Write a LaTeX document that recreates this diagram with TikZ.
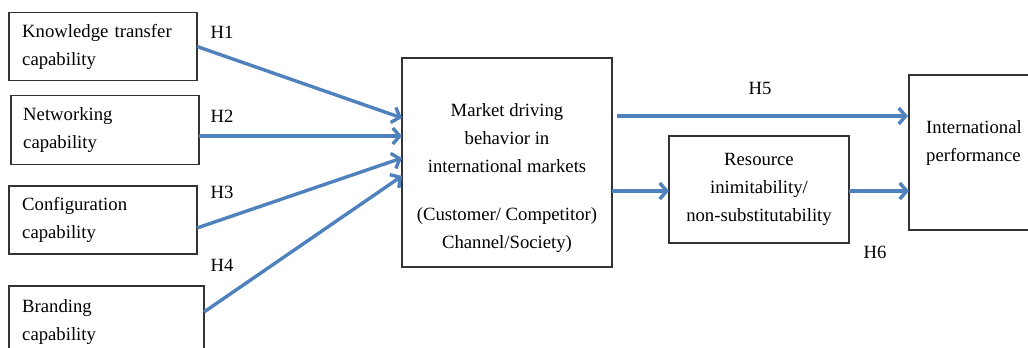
\documentclass[tikz,border=0pt]{standalone}
\usepackage{fontspec}
\setmainfont{Liberation Serif}
\usetikzlibrary{arrows.meta}
\definecolor{arrowblue}{RGB}{79,129,189}
\begin{document}
\begin{tikzpicture}[x=1pt,y=-1pt,
  every node/.style={font=\fontsize{18.7}{28}\selectfont},
  box/.style={draw=black!80,line width=1.2pt,inner sep=0pt,outer sep=0pt},
  ltext/.style={inner sep=0pt,align=left,text width=#1},
  arr/.style={draw=arrowblue,line width=3.4pt,-{Straight Barb[length=7pt,width=16pt]}},
  hlab/.style={inner sep=0pt}]
\useasboundingbox (0,0) rectangle (1028,348);
% left boxes
\node[box,minimum width=188pt,minimum height=68pt] (k) at (103,46.5) {};
\node[ltext=170pt,anchor=west] (kt) at ([xshift=13pt]k.west) {Knowledge transfer\\capability};
\node[box,minimum width=188pt,minimum height=69pt] (n) at (105,130) {};
\node[ltext=170pt,anchor=west] (nt) at ([xshift=12pt]n.west) {Networking\\capability};
\node[box,minimum width=188pt,minimum height=68pt] (c) at (103,220) {};
\node[ltext=170pt,anchor=west] (ct) at ([xshift=13pt]c.west) {Configuration\\capability};
\node[box,minimum width=195pt,minimum height=70pt] (b) at (106.5,321) {};
\node[ltext=170pt,anchor=west] (bt) at ([xshift=13pt,yshift=-1pt]b.west) {Branding\\capability};
% middle box
\node[box,minimum width=210pt,minimum height=209pt] (m) at (507,162.5) {};
\node[align=center,inner sep=0pt] (mt1) at (507,138) {Market driving\\behavior in\\international markets};
\node[align=center,inner sep=0pt] (mt2) at (507,230) {(Customer/ Competitor)\\Channel/Society)};
% resource box
\node[box,minimum width=180pt,minimum height=107pt,align=center] (r) at (759,189.5) {Resource\\inimitability/\\non-substitutability};
% international performance
\node[box,minimum width=140pt,minimum height=155pt] (p) at (979,152.5) {};
\node[align=left,inner sep=0pt,anchor=north west] (pt) at (926,120) {International\\performance};
% target coordinates
\coordinate (t1) at (402,118);
\coordinate (t2) at (402,136);
\coordinate (t3) at (402,158);
\coordinate (t4) at (402,176);
\coordinate (s5) at (617,116);
\coordinate (t5) at (908,116);
% arrows
\draw[arr] (k.east) -- (t1);
\draw[arr] ([yshift=-6pt]n.east) -- (t2);
\draw[arr] ([yshift=-8pt]c.east) -- (t3);
\draw[arr] ([yshift=9pt]b.east) -- (t4);
\draw[arr] (s5) -- (t5);
\draw[arr] ([yshift=-28.5pt]m.east) -- ([yshift=-1.5pt]r.west);
\draw[arr] ([yshift=-1.5pt]r.east) -- ([yshift=-38.5pt]p.west);
% labels
\node[hlab] (h1) at (222,32) {H1};
\node[hlab] (h2) at (222,116) {H2};
\node[hlab] (h3) at (222,192) {H3};
\node[hlab] (h4) at (222,265) {H4};
\node[hlab] (h5) at (760,88) {H5};
\node[hlab] (h6) at (875,252) {H6};
\end{tikzpicture}
\end{document}
